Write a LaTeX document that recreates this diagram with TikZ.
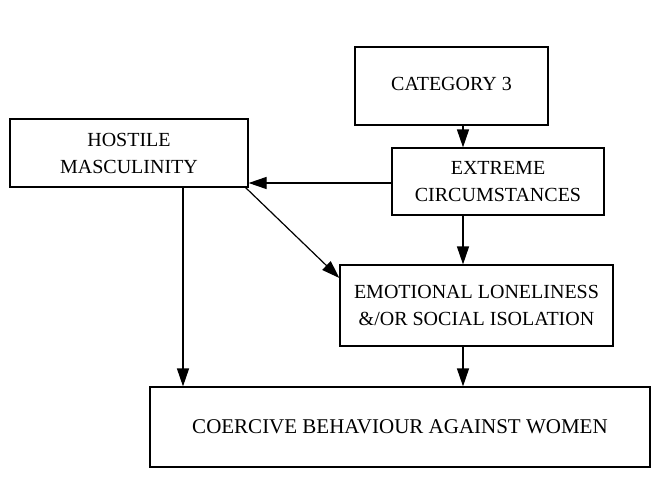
\documentclass[tikz,border=0pt]{standalone}
\usepackage{fontspec}
\setmainfont{Liberation Serif}
\usetikzlibrary{arrows.meta}
\begin{document}
\begin{tikzpicture}[x=1pt,y=-1pt,
  box/.style={draw=black, line width=1.2pt, rectangle, align=center,
    inner sep=0pt, font=\fontsize{20}{27}\selectfont},
  link/.style={draw=black, line width=1.2pt, -{Triangle[length=18pt,width=12pt]}}]
  \useasboundingbox (0,0) rectangle (672,493);
  % boxes
  \node[box, minimum width=193pt, minimum height=78pt] (cat) at (451.5,86) {\raisebox{5pt}{CATEGORY 3}};
  \node[box, minimum width=238pt, minimum height=68pt] (host) at (129,153) {HOSTILE\\MASCULINITY};
  \node[box, minimum width=212pt, minimum height=67pt] (ext) at (498,181.5) {EXTREME\\CIRCUMSTANCES};
  \node[box, minimum width=273pt, minimum height=81pt] (emo) at (476.5,305.5) {EMOTIONAL LONELINESS\\\&/OR SOCIAL ISOLATION};
  \node[box, minimum width=500pt, minimum height=80pt] (coe) at (400,427) {\fontsize{21}{27}\selectfont COERCIVE BEHAVIOUR AGAINST WOMEN};
  % connectors
  \draw[link] (cat.south -| 463,0) -- (ext.north -| 463,0);
  \draw[link] (ext.west |- 0,183) -- (host.east |- 0,183);
  \draw[link] (ext.south -| 463,0) -- (emo.north -| 463,0);
  \draw[link] (emo.south -| 463,0) -- (coe.north -| 463,0);
  \draw[link] (host.south -| 183,0) -- (coe.north -| 183,0);
  \draw[link] (host.south east) ++(-3,0) coordinate (hs) (hs) -- (emo.west |- 0,278);
\end{tikzpicture}
\end{document}
